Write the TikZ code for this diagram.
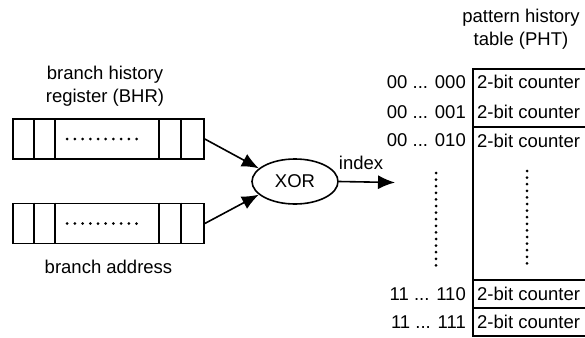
\documentclass[tikz,border=0pt]{standalone}
\usepackage{fontspec}
\setmainfont{Liberation Sans}
\usepackage{tikz}
\usetikzlibrary{shapes.geometric, arrows.meta, positioning}
\newcommand{\diagfont}{\fontsize{18.5}{23}\selectfont}
\tikzstyle{register} = [rectangle, draw=black, line width=1.6pt, minimum width=191pt, minimum height=40pt, inner sep=0pt]
\tikzstyle{gate} = [ellipse, draw=black, line width=1.6pt, minimum width=86pt, minimum height=45pt, inner sep=0pt, font=\diagfont]
\tikzstyle{txt} = [inner sep=0pt, align=center, font=\diagfont]
\tikzstyle{cell} = [inner sep=0pt, anchor=west, font=\diagfont]
\tikzstyle{entry} = [inner sep=0pt, font=\diagfont]
\tikzstyle{arrow} = [line width=1.6pt, -{Latex[length=17pt,width=14pt]}]
\tikzstyle{dotrow} = [line width=3pt, line cap=round, dash pattern=on 0pt off 7.7pt]
\tikzstyle{dotcol} = [line width=3pt, line cap=round, dash pattern=on 0pt off 6.6pt]

\begin{document}
\begin{tikzpicture}[x=1pt, y=-1pt]
\useasboundingbox (0,0) rectangle (585,337);
\clip (0,0) rectangle (585,337);
% Registers
\node (bhr) [register] at (108.5,139) {};
\node (addr) [register] at (108.5,223.5) {};
\node (bhrtext) [txt] at (105,86.5) {branch history\\register (BHR)};
\node (addrtext) [txt, below=16pt of addr] {branch address};
\foreach \d in {22,43,147,169} {
  \draw [line width=1.6pt] ([xshift=\d pt]bhr.north west) -- ([xshift=\d pt]bhr.south west);
  \draw [line width=1.6pt] ([xshift=\d pt]addr.north west) -- ([xshift=\d pt]addr.south west);
}
\draw [dotrow] ([xshift=55pt]bhr.west) -- ([xshift=126pt]bhr.west);
\draw [dotrow] ([xshift=55pt]addr.west) -- ([xshift=126pt]addr.west);

% XOR
\node (xor) [gate] at (295,181.5) {XOR};
\coordinate (idx) at (395,182.5);
\node (idxtext) [txt] at (361,163) {index};

% Pattern history table
\node (phttext) [txt] at (521,29) {pattern history\\table (PHT)};
\draw [line width=1.6pt] (473,69) rectangle (640,336);
\foreach \y in {127,280,308}
  \draw [line width=1.6pt] (473,\y) -- (640,\y);
\node (row0) [cell] at (477,82) {2-bit counter};
\node (row1) [cell] at (477,112) {2-bit counter};
\node (row2) [cell] at (477,140.5) {2-bit counter};
\node (row6) [cell] at (477,294) {2-bit counter};
\node (row7) [cell] at (477,322) {2-bit counter};
\node (lab0) [entry, left=11pt of row0] {00 ... 000};
\node (lab1) [entry, left=11pt of row1] {00 ... 001};
\node (lab2) [entry, left=11pt of row2] {00 ... 010};
\node (lab6) [entry, left=11pt of row6] {11 ... 110};
\node (lab7) [entry, left=11pt of row7] {11 ... 111};
\draw [dotcol] (436,173) -- (436,266);
\draw [dotcol] (527,171) -- (527,264);

% Arrows
\draw [arrow] (bhr.east) -- (xor.160);
\draw [arrow] (addr.east) -- (xor.200);
\draw [arrow] (xor.east) -- (idx);
\end{tikzpicture}
\end{document}
